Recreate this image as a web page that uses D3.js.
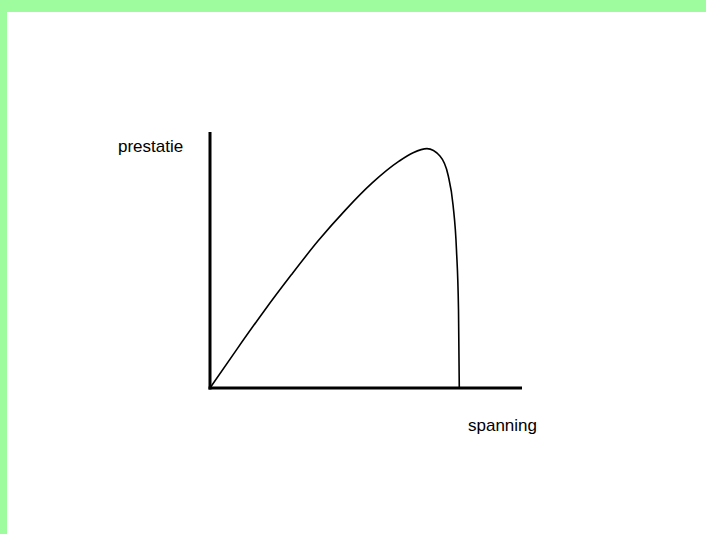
<!DOCTYPE html>
<html>
<head>
<meta charset="utf-8">
<script src="https://cdn.jsdelivr.net/npm/d3@7"></script>
<style>
  html, body { margin: 0; padding: 0; background: #ffffff; }
  svg { display: block; }
</style>
</head>
<body>
<script>
// Data: relative "spanning" (x) vs "prestatie" (y)
const spanning = [0, 8.65, 17.3, 26.0, 34.6, 43.3, 51.9, 60.6, 65.1, 69.55, 73.7, 76.3, 77.9, 79.0, 79.65, 79.9];
const prestatie = [0, 15.2, 30.0, 44.1, 57.4, 69.4, 80.0, 88.6, 91.9, 93.5, 90.6, 83.2, 71.5, 53.9, 30.5, 0];
const xLabel = "spanning";
const yLabel = "prestatie";

const W = 706, H = 534;
const svg = d3.select("body").append("svg").attr("width", W).attr("height", H);

// green frame (top and left bands)
svg.append("rect").attr("x", 0).attr("y", 0).attr("width", W).attr("height", 12).attr("fill", "#9efb9e");
svg.append("rect").attr("x", 0).attr("y", 0).attr("width", 7).attr("height", H).attr("fill", "#9efb9e");

const x = d3.scaleLinear().domain([0, 100]).range([210, 522]);
const y = d3.scaleLinear().domain([0, 100]).range([388, 132]);

// axes
svg.append("line").attr("x1", x(0)).attr("x2", x(0)).attr("y1", y(100)).attr("y2", y(0) + 1.5)
  .attr("stroke", "#000").attr("stroke-width", 3);
svg.append("line").attr("x1", x(0) - 1.5).attr("x2", x(100)).attr("y1", y(0)).attr("y2", y(0))
  .attr("stroke", "#000").attr("stroke-width", 3);

// curve
const pts = spanning.map((v, i) => [v, prestatie[i]]);
const line = d3.line().x(d => x(d[0])).y(d => y(d[1])).curve(d3.curveMonotoneX);
svg.append("path").attr("d", line(pts)).attr("fill", "none").attr("stroke", "#000").attr("stroke-width", 1.6);

// labels
svg.append("text").attr("x", 118).attr("y", 152).text(yLabel)
  .attr("font-family", "Liberation Sans, Arial, sans-serif").attr("font-size", 17).attr("fill", "#000");
svg.append("text").attr("x", 468).attr("y", 431).text(xLabel)
  .attr("font-family", "Liberation Sans, Arial, sans-serif").attr("font-size", 17).attr("fill", "#000");
</script>
</body>
</html>
